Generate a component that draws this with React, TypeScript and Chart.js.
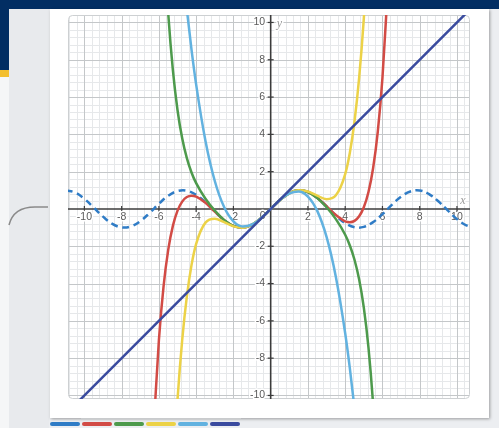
import { useEffect, useRef } from 'react';
import Chart from 'chart.js/auto';

// ---- data ----
const xSamples = [-6.25, -6, -5.75, -5.5, -5.25, -5, -4.75, -4.5, -4.25, -4, -3.5, -3, -2.5, -2, -1.5, -1, -0.5, 0, 0.5, 1, 1.5, 2, 2.5, 3, 3.5, 4, 4.25, 4.5, 4.75, 5, 5.25, 5.5, 5.75, 6, 6.25];
const taylor9 = [-11.22, -7.028, -4.145, -2.195, -0.908, -0.09, 0.394, 0.639, 0.711, 0.662, 0.328, -0.145, -0.599, -0.909, -0.998, -0.841, -0.479, 0, 0.479, 0.841, 0.998, 0.909, 0.599, 0.145, -0.328, -0.662, -0.711, -0.639, -0.394, 0.09, 0.908, 2.195, 4.145, 7.028, 11.22];
const taylor7 = [null, null, 14.789, 10.496, 7.441, 5.293, 3.786, 2.724, 1.958, 1.384, 0.546, -0.091, -0.589, -0.908, -0.997, -0.841, -0.479, 0, 0.479, 0.841, 0.997, 0.908, 0.589, 0.091, -0.546, -1.384, -1.958, -2.724, -3.786, -5.293, -7.441, -10.496, -14.789, null, null];
const taylor5 = [null, null, null, null, -14.37, -10.208, -7.039, -4.69, -3.011, -1.867, -0.731, -0.525, -0.71, -0.933, -1.001, -0.842, -0.479, 0, 0.479, 0.842, 1.001, 0.933, 0.71, 0.525, 0.731, 1.867, 3.011, 4.69, 7.039, 10.208, 14.37, null, null, null, null];
const taylor3 = [null, null, null, null, null, null, 13.112, 10.688, 8.544, 6.667, 3.646, 1.5, 0.104, -0.667, -0.938, -0.833, -0.479, 0, 0.479, 0.833, 0.938, 0.667, -0.104, -1.5, -3.646, -6.667, -8.544, -10.688, -13.112, null, null, null, null, null, null];
const sinX = [-11, -10.5, -10, -9.5, -9, -8.5, -8, -7.5, -7, -6.5, -6, -5.5, -5, -4.5, -4, -3.5, -3, -2.5, -2, -1.5, -1, -0.5, 0, 0.5, 1, 1.5, 2, 2.5, 3, 3.5, 4, 4.5, 5, 5.5, 6, 6.5, 7, 7.5, 8, 8.5, 9, 9.5, 10, 10.5, 11];
const sinY = [1.0, 0.88, 0.544, 0.075, -0.412, -0.798, -0.989, -0.938, -0.657, -0.215, 0.279, 0.706, 0.959, 0.978, 0.757, 0.351, -0.141, -0.598, -0.909, -0.997, -0.841, -0.479, 0, 0.479, 0.841, 0.997, 0.909, 0.598, 0.141, -0.351, -0.757, -0.978, -0.959, -0.706, -0.279, 0.215, 0.657, 0.938, 0.989, 0.798, 0.412, -0.075, -0.544, -0.88, -1.0];
const identityX = [-11, 11];
const identityY = [-11, 11];
const xTicks = [-10, -8, -6, -4, -2, 2, 4, 6, 8, 10];
const yTicks = [-10, -8, -6, -4, -2, 2, 4, 6, 8, 10];
// legend order: sin, P9, P7, P5, P3, y=x
const seriesColors = ['#2f7cc6', '#d24b45', '#4d9a4c', '#ecd247', '#62b2e0', '#3a4b9f'];

const X_MIN = -10.88, X_MAX = 10.7, Y_MIN = -10.19, Y_MAX = 10.4;

function toPoints(xs: number[], ys: (number | null)[]) {
  return xs.map((x, i) => ({ x, y: ys[i] })).filter((p) => p.y !== null);
}

function roundRectPath(ctx: CanvasRenderingContext2D, l: number, t: number, r: number, b: number, rad: number) {
  ctx.beginPath();
  ctx.moveTo(l + rad, t);
  ctx.lineTo(r - rad, t);
  ctx.arcTo(r, t, r, t + rad, rad);
  ctx.lineTo(r, b - rad);
  ctx.arcTo(r, b, r - rad, b, rad);
  ctx.lineTo(l + rad, b);
  ctx.arcTo(l, b, l, b - rad, rad);
  ctx.lineTo(l, t + rad);
  ctx.arcTo(l, t, l + rad, t, rad);
  ctx.closePath();
}

const gridPlugin = {
  id: 'graphPaper',
  beforeDatasetsDraw(chart: any) {
    const { ctx, chartArea: a, scales } = chart;
    const xs = scales.x, ys = scales.y;
    const l = a.left + 0.5, t = a.top + 0.5, r = a.right - 0.5, b = a.bottom - 0.5;
    ctx.save();
    roundRectPath(ctx, l, t, r, b, 4);
    ctx.fillStyle = '#ffffff';
    ctx.fill();
    ctx.clip();
    ctx.lineWidth = 1;
    const drawV = (v: number) => {
      const p = Math.round(xs.getPixelForValue(v)) + 0.5;
      ctx.beginPath(); ctx.moveTo(p, a.top); ctx.lineTo(p, a.bottom); ctx.stroke();
    };
    const drawH = (v: number) => {
      const p = Math.round(ys.getPixelForValue(v)) + 0.5;
      ctx.beginPath(); ctx.moveTo(a.left, p); ctx.lineTo(a.right, p); ctx.stroke();
    };
    // minor lines
    ctx.strokeStyle = '#e6e8ea';
    for (let k = Math.ceil(X_MIN / 0.4); k * 0.4 <= X_MAX; k++) if (k % 5 !== 0) drawV(k * 0.4);
    for (let k = Math.ceil(Y_MIN / 0.4); k * 0.4 <= Y_MAX; k++) if (k % 5 !== 0) drawH(k * 0.4);
    // major lines
    ctx.strokeStyle = '#c4c7c9';
    for (let k = Math.ceil(X_MIN / 2); k * 2 <= X_MAX; k++) if (k !== 0) drawV(k * 2);
    for (let k = Math.ceil(Y_MIN / 2); k * 2 <= Y_MAX; k++) if (k !== 0) drawH(k * 2);
    ctx.restore();

    ctx.save();
    roundRectPath(ctx, l, t, r, b, 4);
    ctx.strokeStyle = '#cdd0d2';
    ctx.lineWidth = 1;
    ctx.stroke();

    const ox = xs.getPixelForValue(0);
    const oy = ys.getPixelForValue(0);
    // axes
    ctx.strokeStyle = '#3c3c3c';
    ctx.lineWidth = 1.6;
    ctx.beginPath(); ctx.moveTo(a.left, oy); ctx.lineTo(a.right, oy); ctx.stroke();
    ctx.beginPath(); ctx.moveTo(ox, a.top); ctx.lineTo(ox, a.bottom); ctx.stroke();
    // tick marks
    ctx.lineWidth = 1.2;
    xTicks.forEach((v) => {
      const p = xs.getPixelForValue(v);
      ctx.beginPath(); ctx.moveTo(p, oy - 3); ctx.lineTo(p, oy + 3); ctx.stroke();
    });
    yTicks.forEach((v) => {
      const p = ys.getPixelForValue(v);
      ctx.beginPath(); ctx.moveTo(ox - 3, p); ctx.lineTo(ox + 3, p); ctx.stroke();
    });
    // labels with white halo
    ctx.font = '10.5px "Liberation Sans", Arial, sans-serif';
    ctx.lineJoin = 'round';
    ctx.lineWidth = 3;
    ctx.strokeStyle = '#ffffff';
    ctx.fillStyle = '#5a5a5a';
    ctx.textBaseline = 'middle';
    const label = (txt: string, px: number, py: number, align: CanvasTextAlign) => {
      ctx.textAlign = align;
      ctx.strokeText(txt, px, py);
      ctx.fillText(txt, px, py);
    };
    xTicks.forEach((v) => label(String(v), xs.getPixelForValue(v), oy + 8.5, 'center'));
    yTicks.forEach((v) => label(String(v), ox - 5.5, ys.getPixelForValue(v), 'right'));
    label('0', ox - 5, oy + 7.5, 'right');
    // axis names
    ctx.font = 'italic 12px "Liberation Serif", "Times New Roman", serif';
    ctx.fillStyle = '#9a9a9a';
    label('x', a.right - 7, oy - 8, 'center');
    label('y', ox + 6, ys.getPixelForValue(10) + 1, 'left');
    ctx.restore();
  },
};

export default function App() {
  const ref = useRef<HTMLCanvasElement>(null);
  useEffect(() => {
    if (!ref.current) return;
    const base = {
      showLine: true,
      fill: false,
      pointRadius: 0,
      borderWidth: 2.5,
      clip: 0,
      borderJoinStyle: 'round',
      borderCapStyle: 'round',
    };
    const datasets: any[] = [
      { ...base, label: 'y=x', data: toPoints(identityX, identityY), borderColor: seriesColors[5] },
      { ...base, label: 'P3', data: toPoints(xSamples, taylor3), borderColor: seriesColors[4], cubicInterpolationMode: 'monotone' },
      { ...base, label: 'P5', data: toPoints(xSamples, taylor5), borderColor: seriesColors[3], cubicInterpolationMode: 'monotone' },
      { ...base, label: 'P7', data: toPoints(xSamples, taylor7), borderColor: seriesColors[2], cubicInterpolationMode: 'monotone' },
      { ...base, label: 'P9', data: toPoints(xSamples, taylor9), borderColor: seriesColors[1], cubicInterpolationMode: 'monotone' },
      { ...base, label: 'sin', data: toPoints(sinX, sinY), borderColor: seriesColors[0], tension: 0.4, borderDash: [7, 4.5], borderCapStyle: 'butt' },
    ];
    const chart = new Chart(ref.current, {
      type: 'scatter',
      data: { datasets },
      options: {
        responsive: false,
        animation: false,
        devicePixelRatio: 1,
        events: [],
        layout: { padding: { left: 68, top: 15, right: 29, bottom: 29 } },
        scales: {
          x: { type: 'linear', display: false, min: X_MIN, max: X_MAX },
          y: { type: 'linear', display: false, min: Y_MIN, max: Y_MAX },
        },
        elements: { point: { radius: 0 }, line: { capBezierPoints: false } },
        plugins: { legend: { display: false }, tooltip: { enabled: false } },
      } as any,
      plugins: [gridPlugin as any],
    });
    return () => chart.destroy();
  }, []);

  return (
    <div style={{ position: 'fixed', left: 0, top: 0, width: 499, height: 428, background: '#eceef1', overflow: 'hidden' }}>
      <div style={{ position: 'absolute', left: 0, top: 77, width: 9, height: 351, background: '#f5f6f7' }} />
      <div style={{ position: 'absolute', left: 9, top: 9, width: 40, height: 419, background: '#e8eaed' }} />
      <div style={{ position: 'absolute', left: 0, top: 0, width: 499, height: 9, background: '#022e63' }} />
      <div style={{ position: 'absolute', left: 0, top: 0, width: 9, height: 70, background: '#022e63' }} />
      <div style={{ position: 'absolute', left: 0, top: 70, width: 9, height: 7, background: '#f3bf2f' }} />
      <div style={{ position: 'absolute', left: 50, top: 9, width: 439, height: 409, background: '#ffffff', boxShadow: '1px 1px 3px rgba(0,0,0,0.35)' }} />
      <svg style={{ position: 'absolute', left: 0, top: 195 }} width={50} height={40}>
        <path d="M 9 30 C 12 18, 21 12, 35 12 L 48 12" stroke="#8a8a8a" strokeWidth={1.5} fill="none" />
      </svg>
      <div style={{ position: 'absolute', left: 81, top: 418, width: 160, height: 1, background: '#c9cbcd' }} />
      {seriesColors.map((c, i) => (
        <div key={i} style={{ position: 'absolute', left: 50 + i * 32, top: 422, width: 30, height: 4, borderRadius: 2, background: c }} />
      ))}
      <canvas ref={ref} width={499} height={428} style={{ position: 'absolute', left: 0, top: 0 }} />
    </div>
  );
}
